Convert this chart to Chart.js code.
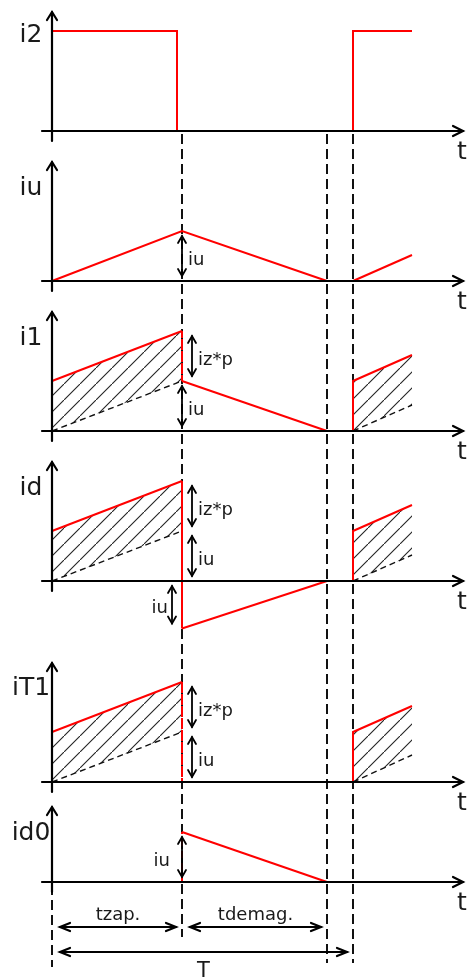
<!DOCTYPE html>
<html>
<head>
<meta charset="utf-8">
<script src="https://cdn.jsdelivr.net/npm/chart.js@4.4.1/dist/chart.umd.min.js"></script>
<style>
  html, body { margin: 0; padding: 0; background: #fff; }
  canvas { display: block; }
</style>
</head>
<body>
<canvas id="diagram" width="467" height="978"></canvas>
<script>
// time instants, same time units in all six plots
const tZap = 130;      // end of conduction (tzap)
const tDemag = 275;    // end of demagnetisation
const tPeriod = 301;   // period T

// waveforms: time / value pairs, null breaks the line
const i2Time = [0, 125, 125, 200, 301, 301, 360];
const i2Val  = [2, 2, 0, null, 0, 2, 2];

const iuTime = [0, 130, 275, 290, 301, 360];
const iuVal  = [0, 1, 0, null, 0, 0.52];

const i1Time = [0, 130, 130, 275, 290, 301, 301, 360];
const i1Val  = [1, 2, 1, 0, null, 0, 1, 1.52];

const idTime = [0, 130, 130, 275, 290, 301, 301, 360];
const idVal  = [1, 2, -0.95, 0, null, 0, 1, 1.52];

const iT1Time = [0, 130, 130, 200, 301, 301, 360];
const iT1Val  = [1, 2, 0, null, 0, 1, 1.52];

const id0Time = [130, 130, 275];
const id0Val  = [0, 1, 0];

// hatched part: upper edge and dashed magnetising ramp
const hatchTime = [0, 130, 200, 301, 360];
const hatchTop  = [1, 2, null, 1, 1.52];
const rampVal   = [0, 1, null, 0, 0.52];
const rampValT1 = [0, 1, null, 0, 0.54];

// names
const panelNames = ['i2', 'iu', 'i1', 'id', 'iT1', 'id0'];
const spanLabels = ['tzap.', 'tdemag.', 'T'];

// ---- layout of the six stacked plots (one y scale each)
const panels = [
  { id: 'yI2',  weight: 155, min: -0.48, max: 2.62, top: 2.38, nameAt: 1.92 },
  { id: 'yIu',  weight: 150, min: -0.48, max: 2.52, top: 2.38, nameAt: 1.86 },
  { id: 'yI1',  weight: 150, min: -0.48, max: 2.52, top: 2.38, nameAt: 1.86 },
  { id: 'yId',  weight: 185, min: -1.18, max: 2.52, top: 2.38, nameAt: 1.86 },
  { id: 'yIT1', weight: 150, min: -0.16, max: 2.84, top: 2.38, nameAt: 1.88 },
  { id: 'yId0', weight: 188, min: -1.92, max: 1.84, top: 1.5,  nameAt: 0.98 }
];

// double arrows with labels (iu, iz*p)
const marks = [
  { axis: 'yIu',  dx: 0,   v0: 0,     v1: 1, text: 'iu',   side: 1,  gap: 6 },
  { axis: 'yI1',  dx: 10,  v0: 1,     v1: 2, text: 'iz*p', side: 1,  gap: 6 },
  { axis: 'yI1',  dx: 0,   v0: 0,     v1: 1, text: 'iu',   side: 1,  gap: 6 },
  { axis: 'yId',  dx: 10,  v0: 1,     v1: 2, text: 'iz*p', side: 1,  gap: 6 },
  { axis: 'yId',  dx: 10,  v0: 0,     v1: 1, text: 'iu',   side: 1,  gap: 6 },
  { axis: 'yId',  dx: -10, v0: -0.95, v1: 0, text: 'iu',   side: -1, gap: 4 },
  { axis: 'yIT1', dx: 10,  v0: 1,     v1: 2, text: 'iz*p', side: 1,  gap: 6 },
  { axis: 'yIT1', dx: 10,  v0: 0,     v1: 1, text: 'iu',   side: 1,  gap: 6 },
  { axis: 'yId0', dx: 0,   v0: 0,     v1: 1, text: 'iu',   side: -1, gap: 12 }
];

// bottom time spans
const spans = [
  { t0: 0,    t1: tZap,    v: -0.9, text: spanLabels[0], above: true },
  { t0: tZap, t1: tDemag,  v: -0.9, text: spanLabels[1], above: true },
  { t0: 0,    t1: tPeriod, v: -1.4, text: spanLabels[2], above: false }
];

// dashed guide lines (from just under the i2 axis down to the spans)
const guides = [
  { t: tZap,    from: ['yI2', 0], to: ['yId0', -1.1] },
  { t: tDemag,  from: ['yI2', 0], to: ['yId0', -1.62] },
  { t: tPeriod, from: ['yI2', 0], to: ['yId0', -1.62] },
  { t: 0,       from: ['yId0', 0], to: ['yId0', -1.7] }
];

const RED = '#ff0000';
const INK = '#111';
const TEXT = '#1a1a1a';

const pts = (ts, vs) => ts.map((t, i) => ({ x: t, y: vs[i] }));

function hatchPattern() {
  const c = document.createElement('canvas');
  c.width = 16; c.height = 16;
  const g = c.getContext('2d');
  g.strokeStyle = '#222';
  g.lineWidth = 1.1;
  g.beginPath();
  g.moveTo(-2, 18);
  g.lineTo(18, -2);
  g.stroke();
  return g.createPattern(c, 'repeat');
}
const hatch = hatchPattern();

// red vertical at tzap is drawn dashed
const vertDash = ctx => (ctx.p0.parsed.x === tZap && ctx.p1.parsed.x === tZap) ? [7, 5] : undefined;

var datasets = [];
function redLine(axis, ts, vs) {
  datasets.push({
    data: pts(ts, vs), yAxisID: axis, borderColor: RED, borderWidth: 2,
    pointRadius: 0, fill: false, spanGaps: false, order: 0,
    segment: { borderDash: vertDash }
  });
}
function hatched(axis, ramp) {
  datasets.push({
    data: pts(hatchTime, ramp), yAxisID: axis, borderColor: INK, borderWidth: 1.4,
    borderDash: [6, 4], pointRadius: 0, fill: false, spanGaps: false, order: 1
  });
  var rampIndex = datasets.length - 1;
  datasets.push({
    data: pts(hatchTime, hatchTop), yAxisID: axis, borderColor: 'rgba(0,0,0,0)',
    borderWidth: 0, backgroundColor: hatch, pointRadius: 0, spanGaps: false,
    fill: rampIndex, order: 2
  });
}

redLine('yI2', i2Time, i2Val);
redLine('yIu', iuTime, iuVal);
redLine('yI1', i1Time, i1Val);
redLine('yId', idTime, idVal);
redLine('yIT1', iT1Time, iT1Val);
redLine('yId0', id0Time, id0Val);
hatched('yI1', rampVal);
hatched('yId', rampVal);
hatched('yIT1', rampValT1);

function head(g, x, y, ux, uy, L, W) {
  g.beginPath();
  g.moveTo(x - ux * L - uy * W, y - uy * L + ux * W);
  g.lineTo(x, y);
  g.lineTo(x - ux * L + uy * W, y - uy * L - ux * W);
  g.stroke();
}

const diagramPlugin = {
  id: 'diagram',
  beforeDatasetsDraw(chart) {
    const g = chart.ctx;
    const X = chart.scales.x;
    const py = (id, v) => chart.scales[id].getPixelForValue(v);
    g.save();
    g.strokeStyle = INK;
    g.lineWidth = 2;
    g.setLineDash([10, 5]);
    guides.forEach(d => {
      const x = Math.round(X.getPixelForValue(d.t));
      g.beginPath();
      g.moveTo(x, py(d.from[0], d.from[1]) + 3);
      g.lineTo(x, py(d.to[0], d.to[1]));
      g.stroke();
    });
    g.restore();
  },
  afterDatasetsDraw(chart) {
    const g = chart.ctx;
    const X = chart.scales.x;
    const px = t => X.getPixelForValue(t);
    const py = (id, v) => chart.scales[id].getPixelForValue(v);
    const x0 = px(0);
    g.save();
    g.strokeStyle = '#000';
    g.fillStyle = TEXT;
    g.lineWidth = 2.2;
    g.lineCap = 'round';

    // axes, names and the "t" of each plot
    panels.forEach((p, i) => {
      const yb = py(p.id, 0);
      const yt = py(p.id, p.top);
      g.beginPath();
      g.moveTo(chart.chartArea.left, yb);
      g.lineTo(chart.chartArea.right, yb);
      g.moveTo(x0, yb + 10);
      g.lineTo(x0, yt);
      g.stroke();
      head(g, x0, yt, 0, -1, 8, 5);
      head(g, chart.chartArea.right, yb, 1, 0, 10, 5);

      g.font = '25px "DejaVu Sans"';
      g.textAlign = 'center';
      g.textBaseline = 'middle';
      g.fillText(panelNames[i], 31, py(p.id, p.nameAt));
      g.textAlign = 'left';
      g.textBaseline = 'alphabetic';
      g.fillText('t', 457, yb + 28);
    });

    // double arrows
    g.lineWidth = 1.8;
    g.font = '18px "DejaVu Sans"';
    g.textBaseline = 'middle';
    marks.forEach(m => {
      const x = px(tZap) + m.dx;
      const ya = py(m.axis, m.v1) + 5;
      const yb = py(m.axis, m.v0) - 5;
      g.beginPath();
      g.moveTo(x, ya);
      g.lineTo(x, yb);
      g.stroke();
      head(g, x, ya, 0, -1, 7, 4);
      head(g, x, yb, 0, 1, 7, 4);
      g.textAlign = m.side > 0 ? 'left' : 'right';
      g.fillText(m.text, x + m.side * m.gap, (ya + yb) / 2 + 4);
    });

    // time spans under the last plot
    g.lineWidth = 2.2;
    g.textAlign = 'center';
    g.textBaseline = 'alphabetic';
    spans.forEach(s => {
      const xa = px(s.t0) + 8;
      const xb = px(s.t1) - 6;
      const y = py('yId0', s.v);
      g.beginPath();
      g.moveTo(xa, y);
      g.lineTo(xb, y);
      g.stroke();
      head(g, xa, y, -1, 0, 10, 4);
      head(g, xb, y, 1, 0, 10, 4);
      g.font = s.above ? '18px "DejaVu Sans"' : '21px "DejaVu Sans"';
      g.fillText(s.text, (xa + xb) / 2, s.above ? y - 7 : y + 25);
    });
    g.restore();
  }
};

const scales = {
  x: { type: 'linear', min: -10, max: 411, display: false }
};
panels.forEach((p, i) => {
  scales[p.id] = {
    type: 'linear', position: 'right', stack: 'plots', stackWeight: p.weight,
    weight: i + 1, min: p.min, max: p.max, display: false
  };
});

new Chart(document.getElementById('diagram'), {
  type: 'line',
  data: { datasets: datasets },
  options: {
    responsive: false,
    animation: false,
    layout: { padding: { left: 42, right: 4, top: 0, bottom: 0 } },
    plugins: {
      legend: { display: false },
      tooltip: { enabled: false }
    },
    scales: scales
  },
  plugins: [diagramPlugin]
});
</script>
</body>
</html>
